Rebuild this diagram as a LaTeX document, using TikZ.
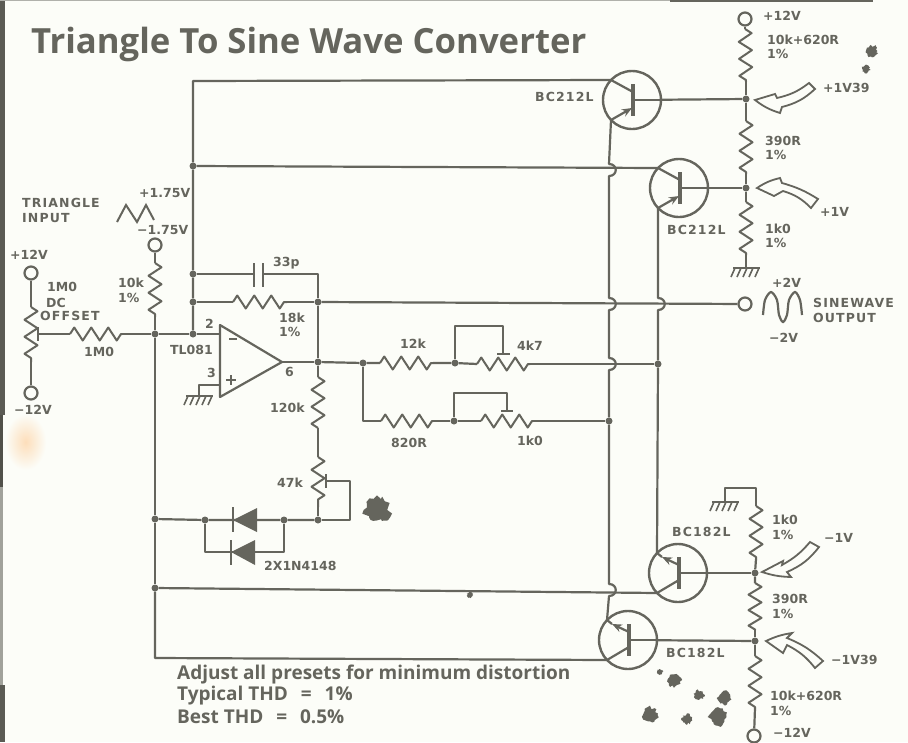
\documentclass[tikz,border=0pt]{standalone}
\usepackage{fontspec}
\setmainfont{DejaVu Sans}
\newfontfamily\titulofont{Open Sans}
\newfontfamily\anchofont[LetterSpace=9]{DejaVu Sans}
\usetikzlibrary{arrows.meta,decorations.pathmorphing}

\definecolor{tinta}{HTML}{65655D}
\definecolor{papel}{HTML}{FCFDF8}

\newcommand{\manchon}[3]{\fill[tinta] plot[domain=0:345,samples=24,variable=\a] ({#1+#3*(0.7+0.5*rnd)*cos(\a)},{#2+#3*(0.7+0.5*rnd)*sin(\a)}) -- cycle;}

\tikzset{
  hilo/.style={draw=tinta,line width=2.2pt,line join=round},
  resis/.style={hilo,line width=2pt,decorate,decoration={zigzag,segment length=17pt,amplitude=6.5pt}},
  marca/.style={draw=tinta,line width=2.8pt},
  base/.style={draw=tinta,line width=3.8pt},
  punto/.style={circle,fill=tinta,minimum size=7pt,inner sep=0pt},
  borne/.style={circle,draw=tinta,line width=2.2pt,minimum size=13pt,inner sep=0pt},
  transis/.style={circle,draw=tinta,line width=2.4pt,minimum size=58pt,inner sep=0pt},
  rotulo/.style={anchor=west,text=tinta,inner sep=0pt,font=\fontsize{12.5}{13}\selectfont\bfseries},
  rotuloancho/.style={anchor=west,text=tinta,inner sep=0pt,font=\anchofont\fontsize{12.5}{13}\selectfont\bfseries},
  nota/.style={anchor=west,text=tinta,inner sep=0pt,font=\titulofont\fontsize{19}{20}\selectfont\bfseries},
  salto/.style={to path={.. controls +(9,0) and +(9,0) .. (\tikztotarget)}},
  flecha/.style={draw=tinta,line width=1.8pt,line join=miter},
  tierra/.pic={
    \draw[tinta,line width=1.8pt] (-13,0) -- (14,0);
    \foreach \k in {-12,-6,0,6,12} \draw[tinta,line width=1.6pt] (\k+1,0) -- (\k-3,9);
  }
}

\begin{document}
\begin{tikzpicture}[x=1pt,y=-1pt]
  \useasboundingbox (0,0) rectangle (908,742);
  \fill[papel] (0,0) rectangle (908,742);

  % Bordes de la pagina
  \fill[tinta!90!black] (0,0) rectangle (5,415);
  \fill[tinta!80!black] (0,415) rectangle (3,487);
  \fill[tinta!60!papel] (0,487) rectangle (3,685);
  \fill[tinta!90!black] (0,685) rectangle (5,742);
  \fill[tinta!50!papel] (0,0) rectangle (670,1.2);
  \fill[tinta] (670,0) rectangle (873,1.5);
  \shade[inner color=orange!25!papel,outer color=papel] (5,414) rectangle (46,470);

  % Titulo
  \node[anchor=base west,text=tinta,inner sep=0pt,font=\titulofont\fontsize{34.7}{36}\selectfont\bfseries] (titulo) at (31,53) {Triangle To Sine Wave Converter};

  % Transistores PNP
  \foreach \n/\x/\y in {qa/632/100,qb/679/188}{
    \node[transis] (\n) at (\x,\y) {};
    \coordinate (\n c) at (\x-21,\y-20);
    \coordinate (\n e) at (\x-21,\y+20);
    \draw[base] (\x+1,\y-16) -- (\x+1,\y+16);
    \draw[hilo] (\x+1,\y-8) -- (\n c);
    \draw[hilo,-{Stealth[length=10pt,width=8pt]}] (\n e) -- (\x,\y+8);
    \coordinate (\n b) at (\x+1,\y);
    \draw[hilo] (\n b) -- (\n);
  }
  % Transistores NPN
  \foreach \n/\x/\y in {qc/678/573,qd/628/640}{
    \node[transis] (\n) at (\x,\y) {};
    \coordinate (\n e) at (\x-21,\y-20);
    \coordinate (\n c) at (\x-21,\y+20);
    \draw[base] (\x+1,\y-16) -- (\x+1,\y+16);
    \draw[hilo] (\x+1,\y+7) -- (\n c);
    \draw[hilo,-{Stealth[length=10pt,width=8pt]}] (\x+1,\y-8) -- (\x-16,\y-16);
    \draw[hilo] (\x-16,\y-16) -- (\n e);
    \coordinate (\n b) at (\x+1,\y);
    \draw[hilo] (\n b) -- (\n);
  }

  % Bornes
  \node[borne] (vsup) at (745,19) {};
  \node[borne] (vinf) at (754,736) {};
  \node[borne] (vsal) at (745,304) {};
  \node[borne] (vent) at (155,245) {};
  \node[borne] (vpos) at (31,273) {};
  \node[borne] (vneg) at (31,393) {};

  % Uniones
  \node[punto] (dqa) at (746,99) {};
  \node[punto] (dqb) at (746,188) {};
  \node[punto] (dqc) at (755,573) {};
  \node[punto] (dqd) at (755,641) {};
  \node[punto] (dfb) at (193,166) {};
  \node[punto] (dcap) at (193,274) {};
  \node[punto] (dres) at (193,302) {};
  \node[punto] (dinv) at (193,334) {};
  \node[punto] (dent) at (155,334) {};
  \node[punto] (dfs) at (318,302) {};
  \node[punto] (dout) at (318,362) {};
  \node[punto] (dram) at (363,363) {};
  \node[punto] (dpa) at (455,363) {};
  \node[punto] (dpb) at (454,421) {};
  \node[punto] (dem) at (658,364) {};
  \node[punto] (dcb) at (609,421) {};
  \node[punto] (ddi) at (155,519) {};
  \node[punto] (dda) at (205,520) {};
  \node[punto] (ddb) at (284,520) {};
  \node[punto] (ddc) at (318,520) {};
  \node[punto] (dnb) at (155,588) {};

  % Divisor superior
  \coordinate (raa) at (745,29);
  \coordinate (rab) at (746,82);
  \coordinate (rba) at (746,121);
  \coordinate (rbb) at (746,174);
  \coordinate (rca) at (746,202);
  \coordinate (rcb) at (746,255);
  \coordinate (gsa) at (746,268);
  \draw[hilo] (vsup) -- (raa);
  \draw[resis] (raa) -- (rab);
  \draw[hilo] (rab) -- (dqa) -- (rba);
  \draw[resis] (rba) -- (rbb);
  \draw[hilo] (rbb) -- (dqb) -- (rca);
  \draw[resis] (rca) -- (rcb);
  \draw[hilo] (rcb) -- (gsa);
  \pic at (gsa) {tierra};
  \draw[hilo] (qa) -- (dqa);
  \draw[hilo] (qb) -- (dqb);

  % Divisor inferior
  \coordinate (gia) at (725,502);
  \coordinate (gib) at (725,488);
  \coordinate (gic) at (756,488);
  \coordinate (rda) at (756,506);
  \coordinate (rdb) at (756,559);
  \coordinate (rea) at (755,583);
  \coordinate (reb) at (755,630);
  \coordinate (rfa) at (755,656);
  \coordinate (rfb) at (755,708);
  \pic at (gia) {tierra};
  \draw[hilo] (gia) -- (gib) -- (gic) -- (rda);
  \draw[resis] (rda) -- (rdb);
  \draw[hilo] (rdb) -- (dqc) -- (rea);
  \draw[resis,decoration={segment length=15.5pt}] (rea) -- (reb);
  \draw[hilo] (reb) -- (dqd) -- (rfa);
  \draw[resis] (rfa) -- (rfb);
  \draw[hilo] (rfb) -- (vinf);
  \draw[hilo] (qc) -- (dqc);
  \draw[hilo] (qd) -- (dqd);

  % Linea izquierda y realimentacion
  \coordinate (esq) at (193,81);
  \draw[hilo] (qac) -- (esq) -- (dfb) -- (dcap) -- (dres) -- (dinv);
  \draw[hilo] (dfb) -- (qbc);

  % Cruces con salto
  \coordinate (saa) at (609,164);
  \coordinate (sab) at (609,176);
  \coordinate (sba) at (609,298);
  \coordinate (sbb) at (609,310);
  \coordinate (sca) at (609,358);
  \coordinate (scb) at (609,370);
  \coordinate (sda) at (609,584);
  \coordinate (sdb) at (609,596);
  \coordinate (sea) at (658,298);
  \coordinate (seb) at (658,310);
  \draw[hilo] (qae) -- (saa) to[salto] (sab) -- (sba) to[salto] (sbb) -- (sca) to[salto] (scb) -- (dcb) -- (sda) to[salto] (sdb) -- (qde);
  \draw[hilo] (qbe) -- (sea) to[salto] (seb) -- (dem) -- (qce);
  \draw[hilo] (dnb) -- (qcc);
  \coordinate (esi) at (155,658);
  \draw[hilo] (dnb) -- (esi) -- (qdc);

  % Amplificador operacional
  \coordinate (opa) at (220,325);
  \coordinate (opb) at (220,397);
  \coordinate (opo) at (282,362);
  \coordinate (opn) at (220,334);
  \coordinate (opp) at (220,385);
  \coordinate (gop) at (199,396);
  \coordinate (gop1) at (199,385);
  \draw[hilo] (opa) -- (opb) -- (opo) -- cycle;
  \draw[hilo] (dinv) -- (opn);
  \draw[hilo] (opo) -- (dout);
  \draw[hilo] (opp) -- (gop1) -- (gop);
  \pic at (gop) {tierra};
  \draw[tinta,line width=2pt] (229,339) -- (237,339);
  \draw[tinta,line width=2pt] (226,380) -- (236,380);
  \draw[tinta,line width=2pt] (231,375) -- (231,385);

  % Potenciometro de offset
  \coordinate (raz) at (31,307);
  \coordinate (rzb) at (31,362);
  \coordinate (wiz) at (38,334);
  \draw[hilo] (vpos) -- (raz);
  \draw[resis] (raz) -- (rzb);
  \draw[hilo] (rzb) -- (vneg);
  \draw[marca] (38,327) -- (38,341);
  \coordinate (rga) at (70,334);
  \coordinate (rgb) at (122,334);
  \draw[hilo] (wiz) -- (rga);
  \draw[resis] (rga) -- (rgb);
  \draw[hilo] (rgb) -- (dent) -- (dinv);

  % Entrada
  \coordinate (rha) at (155,263);
  \coordinate (rhb) at (155,317);
  \draw[hilo] (vent) -- (rha);
  \draw[resis] (rha) -- (rhb);
  \draw[hilo] (rhb) -- (dent) -- (ddi) -- (dnb);

  % Condensador y resistencia de realimentacion
  \coordinate (capa) at (254,274);
  \coordinate (capb) at (263,274);
  \coordinate (esc) at (318,274);
  \draw[hilo] (dcap) -- (capa);
  \draw[hilo] (capb) -- (esc) -- (dfs) -- (dout);
  \draw[marca] (254,263) -- (254,287);
  \draw[marca] (263,263) -- (263,287);
  \coordinate (rja) at (233,302);
  \coordinate (rjb) at (287,302);
  \draw[hilo] (dres) -- (rja);
  \draw[resis] (rja) -- (rjb);
  \draw[hilo] (rjb) -- (dfs);
  \draw[hilo] (dfs) -- (vsal);

  % Ramas de salida
  \coordinate (rka) at (380,363);
  \coordinate (rkb) at (433,363);
  \coordinate (rla) at (477,364);
  \coordinate (rlb) at (530,364);
  \coordinate (wpa) at (503,354);
  \coordinate (wpb) at (503,326);
  \coordinate (wpc) at (455,326);
  \draw[hilo] (dout) -- (dram) -- (rka);
  \draw[resis] (rka) -- (rkb);
  \draw[hilo] (rkb) -- (dpa) -- (rla);
  \draw[resis] (rla) -- (rlb);
  \draw[hilo] (rlb) -- (dem);
  \draw[marca] (497,354) -- (510,354);
  \draw[hilo] (wpa) -- (wpb) -- (wpc) -- (dpa);

  \coordinate (esr) at (363,421);
  \coordinate (rma) at (381,421);
  \coordinate (rmb) at (433,421);
  \coordinate (rna) at (481,421);
  \coordinate (rnb) at (533,421);
  \coordinate (wqa) at (507,411);
  \coordinate (wqb) at (507,393);
  \coordinate (wqc) at (454,393);
  \draw[hilo] (dram) -- (esr) -- (rma);
  \draw[resis] (rma) -- (rmb);
  \draw[hilo] (rmb) -- (dpb) -- (rna);
  \draw[resis] (rna) -- (rnb);
  \draw[hilo] (rnb) -- (dcb);
  \draw[marca] (501,411) -- (513,411);
  \draw[hilo] (wqa) -- (wqb) -- (wqc) -- (dpb);

  % Rama de diodos
  \coordinate (roa) at (318,377);
  \coordinate (rob) at (318,428);
  \coordinate (rpa) at (318,457);
  \coordinate (rpb) at (318,507);
  \coordinate (wra) at (326,481);
  \coordinate (wrb) at (350,481);
  \coordinate (wrc) at (350,520);
  \draw[hilo] (dout) -- (roa);
  \draw[resis] (roa) -- (rob);
  \draw[hilo] (rob) -- (rpa);
  \draw[resis] (rpa) -- (rpb);
  \draw[hilo] (rpb) -- (ddc);
  \draw[marca] (326,474) -- (326,488);
  \draw[hilo] (wra) -- (wrb) -- (wrc) -- (ddc);
  \draw[hilo] (ddc) -- (ddb) -- (dda) -- (ddi);
  \coordinate (dsa) at (205,552);
  \coordinate (dsb) at (284,552);
  \draw[hilo] (dda) -- (dsa) -- (dsb) -- (ddb);
  \fill[tinta] (233,520) -- (257,508) -- (257,532) -- cycle;
  \draw[marca] (233,507) -- (233,532);
  \fill[tinta] (231,552) -- (255,540) -- (255,565) -- cycle;
  \draw[marca] (231,540) -- (231,565);

  % Flechas de tension
  \draw[flecha,fill=papel] (755,100) -- (775,94) -- (777,98) to[bend right=12] (809,83) -- (815,89) to[bend left=14] (782,107) -- (780,113) to[bend left=10] cycle;
  \draw[flecha,fill=papel] (757,188) to[bend left=10] (780,178) -- (782,183) to[bend left=8] (818,199) -- (811,208) to[bend right=14] (783,191) -- (774,196) -- cycle;
  \draw[flecha,fill=papel] (762,572) -- (783,561) -- (782,565) to[bend right=10] (810,542) -- (819,547) to[bend left=14] (787,572) -- (791,577) to[bend left=8] cycle;
  \draw[flecha,fill=papel] (766,641) to[bend left=8] (792,633) -- (787,638) to[bend left=10] (823,661) -- (815,668) to[bend right=12] (787,645) -- (783,653) -- cycle;

  % Formas de onda
  \coordinate (tra) at (117,222);
  \coordinate (trb) at (126,205);
  \coordinate (trc) at (137,222);
  \coordinate (trd) at (146,205);
  \coordinate (tre) at (154,220);
  \draw[tinta,line width=2pt] (tra) -- (trb) -- (trc) -- (trd) -- (tre);
  \draw[tinta,line width=2.2pt] plot[smooth] coordinates {(763,315) (765,300) (771,292) (777,300) (779,315) (783,322) (787,315) (789,300) (795,292) (800,300) (802,315)};

  % Rotulos del divisor superior
  \node[rotulo] (lvs) at (763,16) {+12V};
  \node[rotulo] (lra) at (767,40) {10k+620R};
  \node[rotulo] (lra2) at (767,54) {1\%};
  \node[rotuloancho] (lqa) at (535,97) {BC212L};
  \node[rotulo] (lva) at (823,88) {+1V39};
  \node[rotulo] (lrb) at (765,141) {390R};
  \node[rotulo] (lrb2) at (765,155) {1\%};
  \node[rotulo] (lvb) at (820,212) {+1V};
  \node[rotulo] (lrc) at (765,229) {1k0};
  \node[rotulo] (lrc2) at (765,243) {1\%};
  \node[rotuloancho] (lqb) at (667,230) {BC212L};

  % Rotulos de salida
  \node[rotulo] (lsp) at (772,283) {+2V};
  \node[rotulo] (lsn) at (769,338) {−2V};
  \node[rotuloancho] (lsa) at (813,303) {SINEWAVE};
  \node[rotuloancho] (lsb) at (813,318) {OUTPUT};

  % Rotulos del divisor inferior
  \node[rotuloancho] (lqc) at (672,532) {BC182L};
  \node[rotulo] (lrd) at (772,520) {1k0};
  \node[rotulo] (lrd2) at (772,535) {1\%};
  \node[rotulo] (lvc) at (824,538) {−1V};
  \node[rotulo] (lre) at (772,599) {390R};
  \node[rotulo] (lre2) at (772,614) {1\%};
  \node[rotulo] (lvd) at (831,660) {−1V39};
  \node[rotuloancho] (lqd) at (666,653) {BC182L};
  \node[rotulo] (lrf) at (770,696) {10k+620R};
  \node[rotulo] (lrf2) at (770,711) {1\%};
  \node[rotulo] (lvi) at (773,733) {−12V};

  % Rotulos de entrada
  \node[rotuloancho] (lta) at (22,203) {TRIANGLE};
  \node[rotuloancho] (ltb) at (22,218) {INPUT};
  \node[rotulo] (ltp) at (139,193) {+1.75V};
  \node[rotulo] (ltn) at (137,230) {−1.75V};
  \node[rotulo] (lpp) at (10,255) {+12V};
  \node[rotulo] (lpv) at (47,287) {1M0};
  \node[rotulo] (lpd) at (46,303) {DC};
  \node[rotuloancho] (lpo) at (40,316) {OFFSET};
  \node[rotulo] (lrg) at (84,352) {1M0};
  \node[rotulo] (lpn) at (14,410) {−12V};
  \node[rotulo] (lrh) at (118,283) {10k};
  \node[rotulo] (lrh2) at (118,298) {1\%};

  % Rotulos centrales
  \node[rotulo] (lcp) at (273,263) {33p};
  \node[rotulo] (lrj) at (279,318) {18k};
  \node[rotulo] (lrj2) at (279,332) {1\%};
  \node[rotulo] (lop) at (170,350) {TL081};
  \node[rotulo] (lpa) at (205,324) {2};
  \node[rotulo] (lpb) at (207,373) {3};
  \node[rotulo] (lpc) at (285,372) {6};
  \node[rotulo] (lro) at (270,408) {120k};
  \node[rotulo] (lrp) at (277,483) {47k};
  \node[rotulo] (lrk) at (400,344) {12k};
  \node[rotulo] (lrl) at (517,346) {4k7};
  \node[rotulo] (lrm) at (391,443) {820R};
  \node[rotulo] (lrn) at (517,441) {1k0};
  \node[rotulo] (ldd) at (264,566) {2X1N4148};

  % Notas
  \node[nota] (nota) at (177,675) {Adjust all presets for minimum distortion};
  \node[nota] (notb) at (177,696) {Typical THD\hspace{8pt} =\hspace{8pt} 1\%};
  \node[nota] (notc) at (177,717) {Best THD\hspace{8pt} =\hspace{8pt} 0.5\%};

  % Manchas del papel
  \manchon{377}{510}{13}
  \manchon{872}{51}{6}
  \manchon{866}{69}{4}
  \manchon{470}{595}{3}
  \manchon{660}{672}{3}
  \manchon{674}{680}{7}
  \manchon{699}{695}{5}
  \manchon{650}{715}{8}
  \manchon{687}{719}{5}
  \manchon{725}{698}{7}
  \manchon{718}{717}{9}
\end{tikzpicture}
\end{document}
